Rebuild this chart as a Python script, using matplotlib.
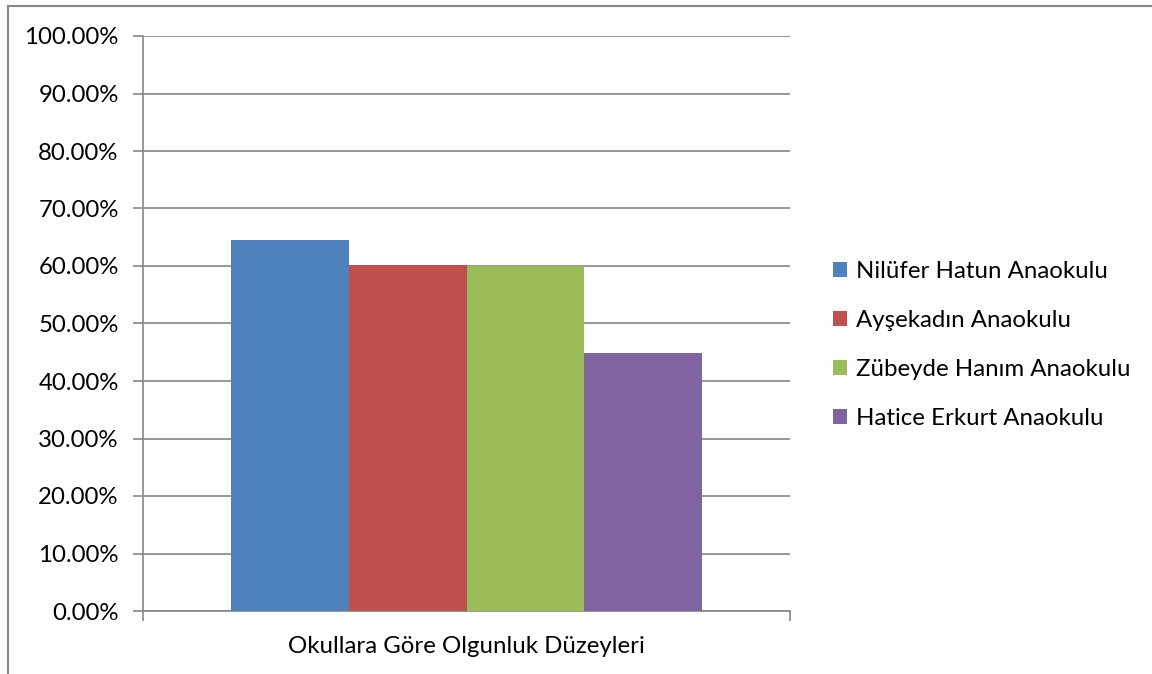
import matplotlib
matplotlib.use("Agg")
import matplotlib.pyplot as plt
from matplotlib.lines import Line2D
from matplotlib.ticker import FuncFormatter, MultipleLocator

category = "Okullara Göre Olgunluk Düzeyleri"
schools = ["Nilüfer Hatun Anaokulu", "Ayşekadın Anaokulu",
           "Zübeyde Hanım Anaokulu", "Hatice Erkurt Anaokulu"]
values = [0.646, 0.602, 0.600, 0.448]
colors = ["#4F81BD", "#C0504D", "#9BBB59", "#8064A2"]

plt.rcParams['font.family'] = ['Lato', 'DejaVu Sans']

W, H = 1152, 674
fig = plt.figure(figsize=(W / 100, H / 100), dpi=100)
ax = fig.add_axes([143 / W, 1 - 611 / H, (790 - 143) / W, (611 - 36) / H])

grey = "#868686"
fs = 17.3
bw = 0.182
n = len(values)
for i, (s, v, c) in enumerate(zip(schools, values, colors)):
    ax.bar((i - (n - 1) / 2) * bw, v, width=bw, color=c, label=s, zorder=3)

ax.set_xlim(-0.5, 0.5)
ax.set_ylim(0, 1.0)
ax.yaxis.set_major_locator(MultipleLocator(0.1))
ax.yaxis.set_major_formatter(FuncFormatter(lambda v, p: f"{v*100:.2f}%"))
ax.grid(axis='y', color=grey, linewidth=1.2, zorder=0)

ax.set_xticks([0])
ax.set_xticklabels([category])
ax.set_xticks([-0.5, 0.5], minor=True)
ax.tick_params(axis='x', which='major', length=0, pad=18, labelsize=fs, colors='#000000')
ax.tick_params(axis='x', which='minor', length=7, width=1.2, color=grey)
ax.tick_params(axis='y', length=7, width=1.2, color=grey, labelsize=fs, pad=10.5)

for sp in ['top', 'right']:
    ax.spines[sp].set_visible(False)
for sp in ['left', 'bottom']:
    ax.spines[sp].set_color(grey)
    ax.spines[sp].set_linewidth(1.2)

leg = fig.legend(loc='upper left', bbox_to_anchor=(833 / W, 1 - 261 / H),
                 frameon=False, fontsize=fs, handlelength=0.6, handleheight=0.6,
                 handletextpad=0.35, labelspacing=1.16, borderaxespad=0,
                 borderpad=0)

# outer chart border (top and left visible)
fig.add_artist(Line2D([8 / W, 1], [1 - 6 / H, 1 - 6 / H], color=grey, linewidth=1.5))
fig.add_artist(Line2D([8 / W, 8 / W], [0, 1 - 6 / H], color=grey, linewidth=1.5))

fig.savefig("out.png", dpi=100)
